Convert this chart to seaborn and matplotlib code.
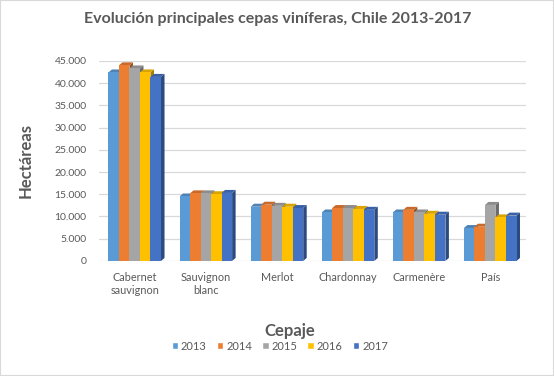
import matplotlib
matplotlib.use("Agg")
import matplotlib.pyplot as plt
from matplotlib.patches import Polygon
from matplotlib.ticker import FuncFormatter, MultipleLocator
import seaborn as sns
import pandas as pd

categories = ["Cabernet\nsauvignon", "Sauvignon\nblanc", "Merlot", "Chardonnay", "Carmenère", "País"]
years = ["2013", "2014", "2015", "2016", "2017"]
v2013 = [42400, 14500, 12200, 10900, 10900, 7400]
v2014 = [44000, 15200, 12650, 11900, 11500, 7700]
v2015 = [43300, 15200, 12400, 11900, 10900, 12600]
v2016 = [42400, 15000, 12200, 11700, 10600, 9800]
v2017 = [41400, 15300, 11900, 11500, 10400, 10200]
colors = ["#5B9BD5", "#ED7D31", "#A5A5A5", "#FFC000", "#4472C4"]

rows = []
for y, vals in zip(years, [v2013, v2014, v2015, v2016, v2017]):
    for c, v in zip(categories, vals):
        rows.append({"Cepaje": c, "Año": y, "Hectáreas": v})
df = pd.DataFrame(rows)

sns.set_theme(style="white")
plt.rcParams["font.family"] = ["Lato", "DejaVu Sans"]
txt = "#595959"

fig = plt.figure(figsize=(5.54, 3.76), dpi=100)
ax = fig.add_axes([0.179, 0.306, 0.77, 0.532])

sns.barplot(data=df, x="Cepaje", y="Hectáreas", hue="Año", palette=colors,
            width=0.74, ax=ax, legend=False, saturation=1, linewidth=0)

ax.set_ylim(0, 45000)
ax.set_xlim(-0.5, 5.5)
ax.yaxis.set_major_locator(MultipleLocator(5000))
ax.yaxis.set_major_formatter(FuncFormatter(lambda v, p: f"{int(v):,}".replace(",", ".")))
ax.grid(axis="y", color="#D9D9D9", linewidth=0.9)
ax.set_axisbelow(True)
for s in ax.spines.values():
    s.set_visible(False)
ax.tick_params(axis="y", length=0, labelsize=7.5, colors=txt, pad=9)
ax.tick_params(axis="x", length=0, labelsize=7.8, colors=txt, pad=8)
ax.set_xlabel("Cepaje", fontsize=12, fontweight="bold", color=txt)
ax.xaxis.label.set_va("center")
ax.xaxis.set_label_coords(0.447, -0.35)
ax.set_ylabel("Hectáreas", fontsize=12, fontweight="bold", color=txt, labelpad=15)

# pseudo-3D faces derived from each bar patch
dx, dy = 3.5, 3.0
def darker(c, f):
    r, g, b = matplotlib.colors.to_rgb(c)
    return (r * f, g * f, b * f)

fig.canvas.draw()
inv = ax.transData.inverted()
bars = list(ax.patches)
for p in bars:
    x0, y0 = p.get_x(), p.get_y()
    w, h = p.get_width(), p.get_height()
    col = p.get_facecolor()
    (X0, Y0) = ax.transData.transform((x0, y0))
    (X1, Y1) = ax.transData.transform((x0 + w, y0 + h))
    side = [(X1, Y0), (X1 + dx, Y0 + dy), (X1 + dx, Y1 + dy), (X1, Y1)]
    top = [(X0, Y1), (X0 + dx, Y1 + dy), (X1 + dx, Y1 + dy), (X1, Y1)]
    ax.add_patch(Polygon(inv.transform(side), closed=True, facecolor=darker(col, 0.65),
                         edgecolor="none", zorder=p.get_zorder() - 0.1))
    ax.add_patch(Polygon(inv.transform(top), closed=True, facecolor=darker(col, 0.85),
                         edgecolor="none", zorder=p.get_zorder() - 0.1))

handles = [matplotlib.patches.Patch(facecolor=c, label=y) for c, y in zip(colors, years)]
fig.legend(handles=handles, loc="center", bbox_to_anchor=(0.505, 0.079), ncol=5, frameon=False,
           fontsize=8, handlelength=0.6, handleheight=0.6, handletextpad=0.25, columnspacing=0.9,
           labelcolor=txt)

fig.suptitle("Evolución principales cepas viníferas, Chile 2013-2017", x=0.502, y=0.968,
             fontsize=11.5, fontweight="bold", color=txt)

border = matplotlib.patches.Rectangle((0, 0), 1, 1, transform=fig.transFigure, fill=False,
                                      edgecolor="#D9D9D9", linewidth=1.5)
fig.patches.append(border)

fig.savefig("out.png", dpi=100, facecolor="white")
